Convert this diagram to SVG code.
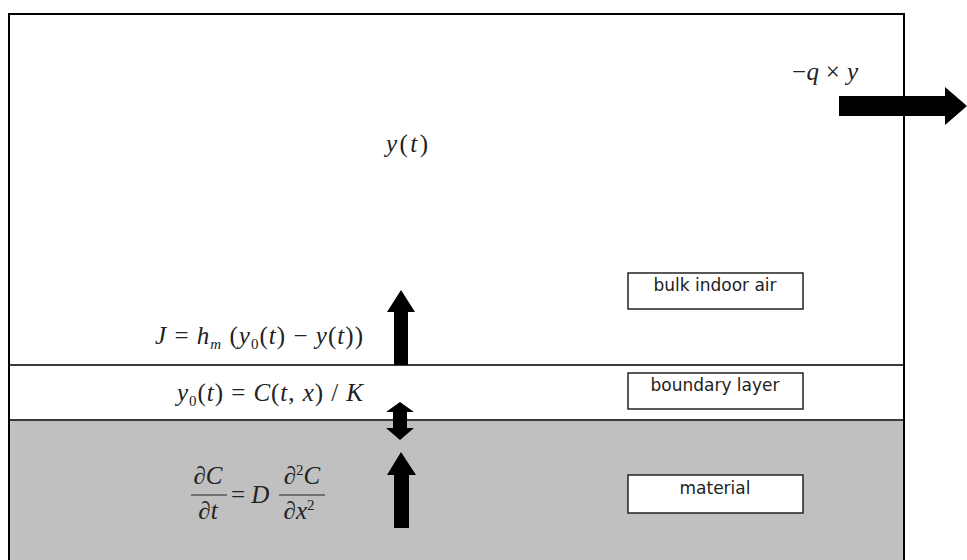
<svg xmlns="http://www.w3.org/2000/svg" width="967" height="560" viewBox="0 0 967 560">
<style>
.m{font-family:"Liberation Serif","Times New Roman",serif;font-size:25px;fill:#222}
.i{font-style:italic}
.s{font-size:15px}
.lbl{font-family:"DejaVu Sans",Verdana,sans-serif;font-size:17px;fill:#222;text-anchor:middle}
.box{fill:#fff;stroke:#222;stroke-width:1.5}
.arr{fill:#000}
</style>
<rect width="967" height="560" fill="#fff"/>
<g id="material-layer">
<rect x="8" y="420" width="896" height="142" fill="#c0c0c0"/>
</g>
<g id="boundary-band">
<line x1="8" y1="365" x2="904" y2="365" stroke="#3a3a3a" stroke-width="2"/>
<line x1="8" y1="420" x2="904" y2="420" stroke="#3a3a3a" stroke-width="2"/>
</g>
<g id="frame">
<path d="M9,562 V14 H904 V562" fill="none" stroke="#000" stroke-width="2"/>
</g>
<g id="label-bulk">
<rect class="box" x="628" y="273" width="175" height="36"/>
<text class="lbl" x="715" y="291">bulk indoor air</text>
</g>
<g id="label-boundary">
<rect class="box" x="628" y="373" width="175" height="36"/>
<text class="lbl" x="715" y="391">boundary layer</text>
</g>
<g id="label-material">
<rect class="box" x="628" y="475" width="175" height="38"/>
<text class="lbl" x="715" y="494">material</text>
</g>
<g id="eq-outflow">
<text class="m" x="792" y="80" textLength="66" lengthAdjust="spacing">−<tspan class="i">q</tspan> × <tspan class="i">y</tspan></text>
</g>
<g id="eq-y">
<text class="m" x="386" y="152" textLength="42" lengthAdjust="spacing"><tspan class="i">y</tspan>(<tspan class="i">t</tspan>)</text>
</g>
<g id="eq-flux">
<text class="m" x="155" y="344" textLength="208" lengthAdjust="spacing"><tspan class="i">J</tspan> = <tspan class="i">h</tspan><tspan class="i s" dy="5">m</tspan><tspan dy="-5"> (</tspan><tspan class="i">y</tspan><tspan class="s" dy="5">0</tspan><tspan dy="-5">(</tspan><tspan class="i">t</tspan>) − <tspan class="i">y</tspan>(<tspan class="i">t</tspan>))</text>
</g>
<g id="eq-partition">
<text class="m" x="177" y="401" textLength="186" lengthAdjust="spacing"><tspan class="i">y</tspan><tspan class="s" dy="5">0</tspan><tspan dy="-5">(</tspan><tspan class="i">t</tspan>) = <tspan class="i">C</tspan>(<tspan class="i">t</tspan>, <tspan class="i">x</tspan>) / <tspan class="i">K</tspan></text>
</g>
<g id="eq-diffusion">
<text class="m" x="208" y="484" text-anchor="middle">∂<tspan class="i">C</tspan></text>
<line x1="191" y1="495" x2="227" y2="495" stroke="#222" stroke-width="1.2"/>
<text class="m" x="208" y="519" text-anchor="middle">∂<tspan class="i">t</tspan></text>
<text class="m" x="231" y="503">= <tspan class="i">D</tspan></text>
<text class="m" x="302" y="484" text-anchor="middle">∂<tspan class="s" dy="-9">2</tspan><tspan class="i" dy="9">C</tspan></text>
<line x1="279" y1="495" x2="325" y2="495" stroke="#222" stroke-width="1.2"/>
<text class="m" x="299" y="519" text-anchor="middle">∂<tspan class="i">x</tspan><tspan class="s" dy="-9">2</tspan></text>
</g>
<g id="connectors">
<polygon class="arr" points="394,365 394,312 387,312 401,290 415,312 408,312 408,365"/>
<polygon class="arr" points="400,402 386,412 393,412 393,428 386,428 400,440 414,428 407,428 407,412 414,412"/>
<polygon class="arr" points="394,528 394,475 387,475 401,452 416,475 409,475 409,528"/>
<polygon class="arr" points="839,96 945,96 945,87 967,106 945,125 945,116 839,116"/>
</g>
</svg>
